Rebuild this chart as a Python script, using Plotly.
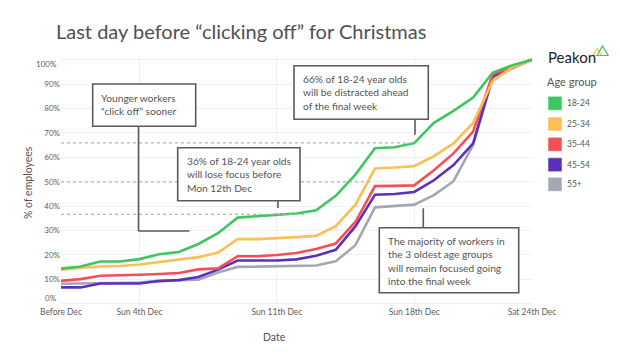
import plotly.graph_objects as go
import pandas as pd

# ---------------- data ----------------
dates = pd.date_range("2016-11-30", "2016-12-24").strftime("%Y-%m-%d").tolist()
age_groups = ["18-24", "25-34", "35-44", "45-54", "55+"]

pct_18_24 = [14.4, 15.3, 17.3, 17.3, 18.3, 20.3, 21.2, 24.5, 28.9, 35.3, 35.9, 36.4, 37.0,
             38.3, 44.2, 52.9, 63.7, 64.1, 65.8, 74.1, 79.0, 84.5, 94.7, 97.7, 100.0]
pct_25_34 = [13.9, 14.8, 15.3, 15.5, 16.1, 17.2, 18.1, 19.1, 21.0, 26.5, 26.5, 26.8, 27.3,
             27.8, 31.8, 40.6, 55.4, 55.8, 56.4, 60.5, 65.7, 74.1, 91.3, 96.9, 100.0]
pct_35_44 = [9.4, 10.1, 11.5, 11.6, 11.9, 12.2, 12.6, 14.1, 14.5, 19.5, 19.5, 20.0, 20.8,
             22.4, 24.7, 33.5, 48.2, 48.3, 48.5, 54.7, 61.6, 70.5, 94.0, 96.9, 100.0]
pct_45_54 = [6.7, 6.7, 8.3, 8.3, 8.3, 9.3, 9.7, 11.0, 14.0, 17.7, 17.7, 17.7, 18.2,
             19.7, 22.1, 31.7, 44.7, 45.0, 45.8, 50.6, 56.8, 65.7, 93.2, 97.0, 100.0]
pct_55_plus = [8.2, 8.3, 8.7, 8.7, 8.7, 9.5, 9.8, 9.9, 12.8, 15.1, 15.2, 15.3, 15.4,
               15.7, 17.4, 24.0, 39.5, 40.0, 40.6, 44.5, 50.2, 65.0, 92.3, 96.4, 100.0]

tick_dates = ["2016-11-30", "2016-12-04", "2016-12-11", "2016-12-18", "2016-12-24"]
tick_labels = ["Before Dec", "Sun 4th Dec", "Sun 11th Dec", "Sun 18th Dec", "Sat 24th Dec"]
y_tick_vals = [0, 10, 20, 30, 40, 50, 60, 70, 80, 90, 100]
y_tick_text = ["", "10%", "20%", "30%", "40%", "50%", "60%", "70%", "80%", "90%", ""]
y_end_labels = ["0%", "100%"]

# ---------------- style ----------------
colors = {"18-24": "#3fc660", "25-34": "#fbbf58", "35-44": "#f44f57",
          "45-54": "#5b30c0", "55+": "#a2a9b2"}
series = {"18-24": pct_18_24, "25-34": pct_25_34, "35-44": pct_35_44,
          "45-54": pct_45_54, "55+": pct_55_plus}

FONT = "Lato"
TXT = "#555555"
# the page adds an 8px body margin, so the figure is 8px smaller than the window
W, H = 612, 351
ML, MR, MT, MB = 53, 88, 48, 54
# plot area in window pixels
L, R, T, B = 61, 532, 56, 305


def fx(px):
    return (px - L) / (R - L)


def fy(py):
    return (B - py) / (B - T)


fig = go.Figure()
for g in reversed(age_groups):
    fig.add_trace(go.Scatter(x=dates, y=series[g], mode="lines", name=g,
                             line=dict(color=colors[g], width=2.6),
                             showlegend=False, hoverinfo="skip"))

shapes = []
annotations = []

# dashed reference lines (data coords)
for yv, xend in [(65.9, "2016-12-18"), (49.9, "2016-12-15 21:00"), (36.6, "2016-12-12 09:00")]:
    shapes.append(dict(type="line", xref="x", yref="y", x0=dates[0], x1=xend, y0=yv, y1=yv,
                       line=dict(color="#b5b5b5", width=1.2, dash="3px,3px"), layer="above"))

BOX = "#5a5a5a"


def box(x0, y0, x1, y1):
    shapes.append(dict(type="rect", xref="paper", yref="paper",
                       x0=fx(x0), x1=fx(x1), y0=fy(y1), y1=fy(y0),
                       fillcolor="white", line=dict(color=BOX, width=1.6), layer="above"))


def seg(x0, y0, x1, y1):
    shapes.append(dict(type="line", xref="paper", yref="paper",
                       x0=fx(x0), x1=fx(x1), y0=fy(y0), y1=fy(y1),
                       line=dict(color=BOX, width=1.6), layer="above"))


def text(px, py, s, size=10, color=TXT, anchor="left", angle=0, ya="middle"):
    annotations.append(dict(xref="paper", yref="paper", x=fx(px), y=fy(py), text=s,
                            showarrow=False, xanchor=anchor, yanchor=ya, align="left",
                            textangle=angle, font=dict(family=FONT, size=size, color=color)))


# callout 1
seg(138.5, 126.5, 138.5, 231)
seg(138.5, 231, 189.5, 231)
box(92.7, 84, 195.7, 126.3)
text(99, 104.2, "Younger workers<br>“click off” sooner", size=10.2)

# callout 2
seg(278, 200.7, 278, 208)
box(177.7, 147.7, 300, 200.7)
text(184.5, 174.7, "36% of 18-24 year olds<br>will lose focus before<br>Mon 12th Dec", size=10.2)

# callout 3
seg(415, 119.3, 415, 134.7)
box(294, 65.7, 428.3, 119.3)
text(300.5, 92.3, "66% of 18-24 year olds<br>will be distracted ahead<br>of the final week", size=10.2)

# callout 4
seg(423.3, 208.3, 423.3, 227.7)
box(379.3, 227.7, 518.7, 292.7)
text(385.5, 261, "The majority of workers in<br>the 3 oldest age groups<br>will remain focused going<br>into the final week", size=10.2)

# end labels of the y axis, flush with the axis ends
text(59, 298, y_end_labels[0], size=8, color="#606060", anchor="right")
text(59, 64.5, y_end_labels[1], size=8, color="#606060", anchor="right")

# title and axis titles
text(54, 31, "Last day before “clicking off” for Christmas", size=20, color="#505050")
text(28, 183, "% of employees", size=10.5, anchor="center", angle=-90)
text(274, 337, "Date", size=10.5, anchor="center")

# legend (Peakon brand + age group)
text(546, 57.5, "Peakon", size=15, color="#222222")
shapes.append(dict(type="path", xref="paper", yref="paper",
                   path="M {} {} L {} {} L {} {} Z".format(fx(593), fy(55.5), fx(597.3), fy(48.5), fx(601.5), fy(55.5)),
                   line=dict(color="#f5c05a", width=1.2), fillcolor="rgba(0,0,0,0)", layer="above"))
shapes.append(dict(type="path", xref="paper", yref="paper",
                   path="M {} {} L {} {} L {} {} Z".format(fx(597), fy(55.5), fx(602.5), fy(46), fx(608), fy(55.5)),
                   line=dict(color="#3fc660", width=1.2), fillcolor="rgba(0,0,0,0)", layer="above"))
text(545, 81.7, "Age group", size=11)
leg_y = [103.3, 124.0, 144.3, 164.7, 184.3]
for g, cy in zip(age_groups, leg_y):
    shapes.append(dict(type="rect", xref="paper", yref="paper",
                       x0=fx(548), x1=fx(562), y0=fy(cy + 7), y1=fy(cy - 7),
                       fillcolor=colors[g], line=dict(color="rgba(255,255,255,0.5)", width=1),
                       layer="above"))
    text(564.5, cy, g, size=8.5)

fig.update_layout(
    width=W, height=H,
    margin=dict(l=ML, r=MR, t=MT, b=MB, pad=0, autoexpand=False),
    paper_bgcolor="white", plot_bgcolor="white",
    font=dict(family=FONT, color=TXT),
    shapes=shapes, annotations=annotations,
    xaxis=dict(range=[dates[0], dates[-1]], tickvals=tick_dates, ticktext=tick_labels,
               showgrid=True, gridcolor="#efefef", gridwidth=1, zeroline=False,
               showline=False, ticks="", tickfont=dict(size=8.5, color="#606060"),
               automargin=False),
    yaxis=dict(range=[-0.5, 101.5], tickvals=y_tick_vals, ticktext=y_tick_text,
               showgrid=True, gridcolor="#efefef", gridwidth=1, zeroline=False,
               showline=False, ticks="", tickfont=dict(size=8, color="#606060"),
               automargin=False),
    showlegend=False,
)

fig.write_html("out.html")
